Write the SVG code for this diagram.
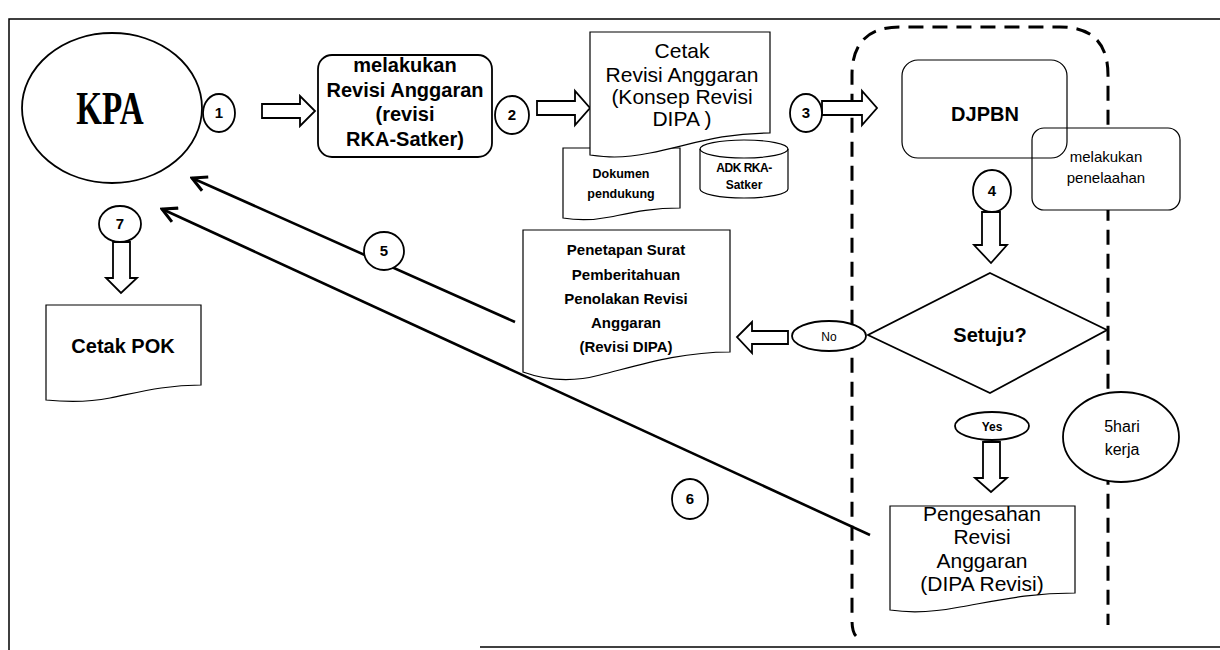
<svg xmlns="http://www.w3.org/2000/svg" width="1220" height="650" viewBox="0 0 1220 650">
<style>
.s{fill:#fff;stroke:#000;stroke-width:1.8}
.t{stroke:#000;stroke-width:1.2;fill:#fff}
.ba{fill:#fff;stroke:#000;stroke-width:1.8;stroke-linejoin:miter}
.tx{font-family:"Liberation Sans",Arial,sans-serif;fill:#000;text-anchor:middle}
.b{font-weight:bold}
.num{font-family:"Liberation Sans",Arial,sans-serif;font-weight:bold;font-size:15px;text-anchor:middle}
.lane{fill:none;stroke:#000;stroke-width:3;stroke-dasharray:15 9}
.ln{fill:none;stroke:#000;stroke-width:2.6}
</style>
<defs>
<marker id="ah" viewBox="0 0 12 12" refX="10.5" refY="6" markerWidth="7" markerHeight="7" orient="auto" markerUnits="strokeWidth">
<path d="M1,1 L10.5,6 L1,11" fill="none" stroke="#000" stroke-width="2"/>
</marker>
</defs>
<rect width="1220" height="650" fill="#fff"/>
<g id="frame" fill="none" stroke="#000" stroke-width="1.5">
<path d="M9,650 V19 H1220"/>
<path d="M480,647 H1220"/>
</g>
<g id="lane">
<path class="lane" d="M856,636 Q852,632 852,620 V75 Q852,27 900,27 H1060 Q1108,27 1108,75 V625"/>
</g>
<g id="connectors">
<path class="ln" d="M515,322 L192,178" marker-end="url(#ah)"/>
<path class="ln" d="M870,535 L162,209" marker-end="url(#ah)"/>
<path class="ba" d="M262,104 H300 V96 L315,111 L300,126 V118 H262 Z"/>
<path class="ba" d="M537,101 H575 V91 L590,108 L575,125 V115 H537 Z"/>
<path class="ba" d="M822,101 H862 V91 L877,108 L862,125 V115 H822 Z"/>
<path class="ba" d="M982,212 H1000 V245 H1007 L991,263 L974,245 H982 Z"/>
<path class="ba" d="M788,331 H752 V322 L737,337 L752,353 V344 H788 Z"/>
<path class="ba" d="M983,442 H1000 V478 H1007 L991,492 L975,478 H983 Z"/>
<path class="ba" d="M113,242 H130 V278 H137 L121,293 L106,278 H113 Z"/>
</g>
<g id="kpa">
<ellipse class="s" cx="112" cy="108" rx="90" ry="75" stroke-width="2.2"/>
<text x="0" y="0" transform="translate(110,124) scale(0.72,1)" font-family="'Liberation Serif',serif" font-weight="bold" font-size="46" text-anchor="middle">KPA</text>
</g>
<g id="n1"><ellipse class="s" cx="219" cy="113" rx="16" ry="19"/><text class="num" x="219" y="118">1</text></g>
<g id="n2"><ellipse class="s" cx="512" cy="115" rx="17" ry="19"/><text class="num" x="512" y="120">2</text></g>
<g id="n3"><ellipse class="s" cx="806" cy="113" rx="16" ry="19"/><text class="num" x="806" y="118">3</text></g>
<g id="n4"><ellipse class="s" cx="992" cy="191" rx="19" ry="21"/><text class="num" x="992" y="196">4</text></g>
<g id="n5"><ellipse class="s" cx="384" cy="251" rx="20" ry="19"/><text class="num" x="384" y="256">5</text></g>
<g id="n6"><ellipse class="s" cx="690" cy="499" rx="18" ry="20"/><text class="num" x="690" y="504">6</text></g>
<g id="n7"><ellipse class="s" cx="120" cy="224" rx="21" ry="18"/><text class="num" x="120" y="229">7</text></g>
<g id="revisi">
<rect class="s" x="318" y="55" width="174" height="102" rx="14"/>
<text class="tx b" font-size="20" x="405" y="72">melakukan</text>
<text class="tx b" font-size="20" x="405" y="97">Revisi  Anggaran</text>
<text class="tx b" font-size="20" x="405" y="121">(revisi</text>
<text class="tx b" font-size="20" x="405" y="146">RKA-Satker)</text>
</g>
<g id="dokumen">
<path class="t" d="M563,148 H680 V208 C650,208 630,213 610,217 C590,221 575,220 563,218 Z"/>
<text class="tx b" font-size="12.5" x="621" y="178">Dokumen</text>
<text class="tx b" font-size="12.5" x="621" y="198">pendukung</text>
</g>
<g id="adk">
<path class="t" d="M700,149 V189 A44,9 0 0 0 788,189 V149 A44,9 0 0 0 700,149 Z"/>
<path fill="none" stroke="#000" stroke-width="1.2" d="M700,149 A44,9 0 0 0 788,149"/>
<text class="tx b" font-size="12" x="744" y="172" letter-spacing="-0.5">ADK RKA-</text>
<text class="tx b" font-size="12" x="744" y="189">Satker</text>
</g>
<g id="cetak">
<path class="t" d="M590,32 H770 V133 C720,133 690,145 650,153 C620,159 605,157 590,155 Z"/>
<text class="tx" font-size="21" x="682" y="58">Cetak</text>
<text class="tx" font-size="21" x="682" y="82">Revisi Anggaran</text>
<text class="tx" font-size="21" x="682" y="104">(Konsep Revisi</text>
<text class="tx" font-size="21" x="682" y="126">DIPA )</text>
</g>
<g id="penelaahan">
<rect class="t" x="1032" y="128" width="148" height="82" rx="12"/>
<text class="tx" font-size="15" x="1106" y="162">melakukan</text>
<text class="tx" font-size="15" x="1106" y="183">penelaahan</text>
</g>
<g id="djpbn">
<rect x="902" y="60" width="165" height="98" rx="16" fill="none" stroke="#000" stroke-width="1.2"/>
<text class="tx b" font-size="20" x="985" y="121">DJPBN</text>
</g>
<g id="setuju">
<path class="s" d="M990,273 L1107,330 L990,393 L868,335 Z" stroke-width="1.5"/>
<text class="tx b" font-size="20" x="990" y="342">Setuju?</text>
</g>
<g id="no">
<ellipse class="s" cx="829" cy="336" rx="37" ry="15"/>
<text class="tx" font-size="12" x="829" y="341">No</text>
</g>
<g id="yes">
<ellipse class="s" cx="992" cy="426" rx="37" ry="14"/>
<text class="tx b" font-size="12" x="992" y="431">Yes</text>
</g>
<g id="hari">
<ellipse class="s" cx="1121" cy="437" rx="58" ry="45" stroke-width="1.5"/>
<text class="tx" font-family="'Liberation Serif',serif" font-size="16" x="1122" y="432">5hari</text>
<text class="tx" font-family="'Liberation Serif',serif" font-size="16" x="1122" y="455">kerja</text>
</g>
<g id="penetapan">
<path class="t" d="M523,230 H730 V352 C680,352 640,365 600,375 C570,383 545,380 523,372 Z"/>
<text class="tx b" font-size="15" x="626" y="255">Penetapan Surat</text>
<text class="tx b" font-size="15" x="626" y="280">Pemberitahuan</text>
<text class="tx b" font-size="15" x="626" y="304">Penolakan Revisi</text>
<text class="tx b" font-size="15" x="626" y="328">Anggaran</text>
<text class="tx b" font-size="15" x="626" y="352">(Revisi DIPA)</text>
</g>
<g id="pengesahan">
<path class="t" d="M890,506 H1075 V593 C1030,593 1000,600 960,607 C930,613 910,613 890,610 Z"/>
<text class="tx" font-size="21" x="982" y="521">Pengesahan</text>
<text class="tx" font-size="21" x="982" y="544">Revisi</text>
<text class="tx" font-size="21" x="982" y="568">Anggaran</text>
<text class="tx" font-size="21" x="982" y="591">(DIPA Revisi)</text>
</g>
<g id="cetakpok">
<path class="t" d="M46,305 H201 V385 C165,385 140,392 110,398 C85,403 65,402 46,400 Z"/>
<text class="tx b" font-size="20" x="123" y="353">Cetak POK</text>
</g>
</svg>
